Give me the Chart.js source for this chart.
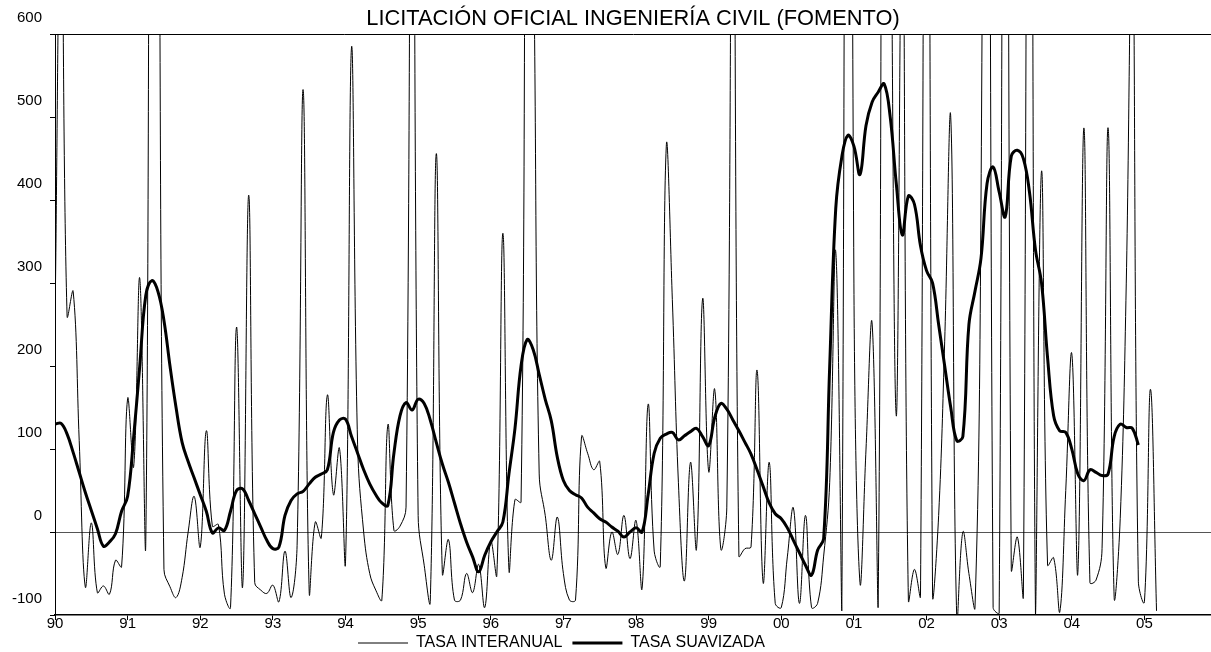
<!DOCTYPE html>
<html>
<head>
<meta charset="utf-8">
<script src="https://cdn.jsdelivr.net/npm/chart.js@4.4.0/dist/chart.umd.min.js"></script>
<style>
  html, body { margin: 0; padding: 0; background: #fff; }
</style>
</head>
<body>
<canvas id="licitacion" width="1211" height="652"></canvas>
<script>
// year tick labels, one per january (monthly data from jan-90)
const yearLabels = ['90', '91', '92', '93', '94', '95', '96', '97', '98', '99', '00', '01', '02', '03', '04', '05'];

// monthly values, % (thin line, spikes go off the chart)
const tasaInteranual = [
  250, 800, 260, 290, 110, -66, 11, -73, -65, -75, -34, -42,
  161, 79, 306, -11, 1500, 1000, -45, -66, -79, -55, 0, 43,
  -18, 122, 7, 9, -75, -91, 247, -66, 406, -61, -70, -74,
  -64, -84, -23, -79, -16, 533, -72, 12, -7, 165, 45, 101,
  -36, 585, 105, 0, -50, -70, -82, 129, 2, 7, 30, 1150,
  20, -40, -84, 456, -50, -9, -82, -82, -50, -73, -39, -91,
  -11, -52, 360, -45, 39, 36, 980, 730, 70, 20, -34, 18,
  -50, -82, -82, 115, 95, 75, 85, -43, 0, -27, 20, -32,
  14, -68, 154, -23, -41, 465, 280, 60, -59, 84, -20, 281,
  73, 172, -20, 30, 1000, -29, -20, -18, 195, -61, 84, -86,
  -91, -30, 29, -86, 20, -91, -86, -29, 60, 338, -95, 2500,
  300, -61, 100, 252, -91, 1600, 900, 140, 800, -82, -45, -77,
  2000, -77, 20, 230, 500, -105, 0, -50, -92, 400, 2000, -91,
  -98, 2000, -45, -6, -76, 2000, -100, 435, -40, -31, -97, 50,
  215, -49, 487, -61, -58, -20, 487, -79, 16, 300, 750, -60,
  -84, 172, -95
];

// smoothed series (thick line)
const tasaSuavizada = [
  130, 131, 118, 96, 72, 48, 26, 4, -17, -12, -2, 25,
  43, 115, 200, 285, 303, 290, 255, 200, 150, 108, 85, 65,
  45, 25, -1, 5, 2, 25, 50, 52, 38, 22, 6, -10,
  -20, -18, 20, 38, 46, 49, 58, 66, 70, 75, 120, 135,
  136, 115, 95, 75, 58, 45, 35, 32, 95, 140, 156, 147,
  160, 155, 135, 108, 82, 60, 35, 10, -12, -30, -48, -28,
  -12, 0, 12, 70, 125, 200, 232, 220, 190, 160, 134, 90,
  62, 50, 45, 41, 30, 23, 16, 12, 6, 1, -6, 0,
  5, 0, 45, 95, 113, 118, 120, 111, 116, 121, 125, 115,
  104, 138, 155, 148, 135, 122, 108, 94, 75, 55, 35, 22,
  16, 5, -10, -25, -40, -52, -22, -8, 200, 390, 452, 478,
  465, 431, 490, 518, 530, 540, 500, 420, 358, 405, 395, 345,
  315, 300, 250, 200, 150, 110, 115, 250, 290, 330, 420, 440,
  410, 380, 453, 460, 450, 410, 340, 300, 210, 140, 122, 120,
  100, 70, 62, 75, 72, 68, 70, 115, 130, 126, 125, 105
];

const toPoints = arr => arr.map((v, i) => ({ x: i, y: v }));

// the legend sits a bit left of centre and close under the axis labels
const legendPlacement = {
  id: 'legendPlacement',
  afterLayout(chart) {
    const lg = chart.legend;
    lg.left -= 44;
    lg.right -= 44;
    lg.top -= 10;
  },
};

Chart.defaults.font.family = "'Liberation Sans', Arial, sans-serif";
Chart.defaults.color = '#000';

const ctx = document.getElementById('licitacion').getContext('2d');

new Chart(ctx, {
  type: 'line',
  data: {
    datasets: [
      {
        label: 'TASA INTERANUAL',
        data: toPoints(tasaInteranual),
        borderColor: '#000',
        borderWidth: 1,
        pointRadius: 0,
        tension: 0.4,
      },
      {
        label: 'TASA SUAVIZADA',
        data: toPoints(tasaSuavizada),
        borderColor: '#000',
        borderWidth: 3,
        pointRadius: 0,
        tension: 0.4,
      },
    ],
  },
  plugins: [legendPlacement],
  options: {
    responsive: false,
    animation: false,
    layout: { padding: 0 },
    plugins: {
      title: {
        display: true,
        text: 'LICITACIÓN OFICIAL INGENIERÍA CIVIL (FOMENTO)',
        fullSize: false,
        color: '#000',
        font: { size: 21.8, weight: 'normal' },
        padding: { top: 6, bottom: 2 },
      },
      legend: {
        position: 'bottom',
        maxHeight: 17,
        labels: {
          usePointStyle: true,
          pointStyle: 'line',
          pointStyleWidth: 50,
          color: '#000',
          font: { size: 16 },
          padding: 10,
        },
      },
      tooltip: { enabled: false },
    },
    scales: {
      x: {
        type: 'linear',
        min: 0,
        max: 191,
        grid: { drawOnChartArea: false, tickLength: 5, tickColor: '#000' },
        border: { color: '#000', width: 1.5 },
        ticks: {
          stepSize: 12,
          includeBounds: false,
          maxRotation: 0,
          autoSkip: false,
          padding: -5,
          font: { size: 15 },
          callback: v => yearLabels[v / 12],
        },
        afterFit: scale => { scale.height = 20; },
      },
      y: {
        min: -100,
        max: 600,
        grid: {
          color: c => c.tick.value === 0 ? '#555' : (c.tick.value === 600 ? '#000' : 'rgba(0,0,0,0)'),
          tickColor: '#000',
          tickLength: 5,
        },
        border: { color: '#000', width: 1 },
        ticks: { stepSize: 100, padding: 8, labelOffset: -16, font: { size: 15 } },
        afterFit: scale => { scale.width = 55; },
      },
    },
  },
});
</script>
</body>
</html>
